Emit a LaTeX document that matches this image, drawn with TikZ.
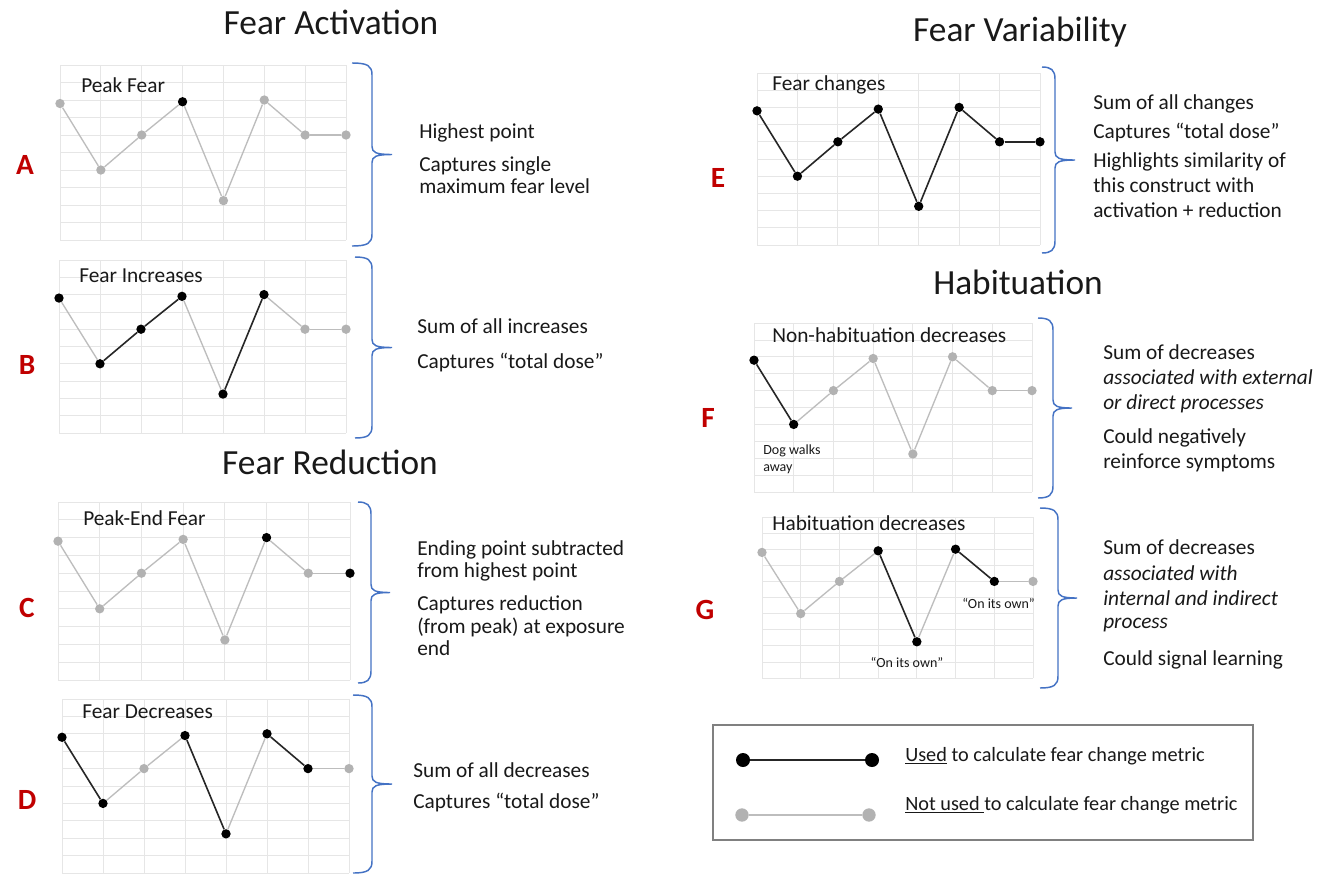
\documentclass[tikz,border=0pt]{standalone}
\usepackage{fontspec}
\setmainfont{Carlito}
\definecolor{dred}{HTML}{C00000}
\definecolor{bblue}{HTML}{4472C4}
\definecolor{ptgray}{HTML}{B2B2B2}
\definecolor{lngray}{HTML}{BDBDBD}
\definecolor{gridc}{HTML}{E6E6E6}
\definecolor{boxc}{HTML}{808080}
\tikzset{
  gridline/.style={draw=gridc, line width=0.6pt},
  ptb/.style={circle, fill=black, inner sep=0pt, minimum size=7pt},
  ptg/.style={circle, fill=ptgray, inner sep=0pt, minimum size=7pt},
  lnb/.style={draw=black!85, line width=1.2pt},
  lng/.style={draw=lngray, line width=1pt},
  bracest/.style={draw=bblue, line width=1.1pt},
  ttl/.style={font=\fontsize{26.5}{30}\selectfont, text=black!90},
  letter/.style={font=\fontsize{22}{25}\selectfont\bfseries, text=dred},
  desc/.style={anchor=base west, font=\fontsize{16}{19}\selectfont, text=black!90, inner sep=0pt},
  clab/.style={anchor=base west, font=\fontsize{16}{19}\selectfont, text=black!90, inner sep=0pt},
  small/.style={font=\fontsize{10.5}{12.5}\selectfont, text=black!90, inner sep=0pt},
  legb/.style={circle, fill=black, inner sep=0pt, minimum size=10.5pt},
  legg/.style={circle, fill=ptgray, inner sep=0pt, minimum size=10pt},
  legt/.style={anchor=base west, font=\fontsize{15.2}{18}\selectfont, text=black!90, inner sep=0pt}
}
\newcommand{\fchart}[7]{%
  \pgfmathsetmacro{\cw}{(#4-#2)/7}%
  \pgfmathsetmacro{\rh}{(#5-#3)/10}%
  \foreach \i in {0,...,7}{\draw[gridline] ({#2+\i*\cw},#3) -- ({#2+\i*\cw},#5);}
  \foreach \j in {0,...,10}{\draw[gridline] (#2,{#3+\j*\rh}) -- (#4,{#3+\j*\rh});}
  \foreach \s [count=\k from 0] in {#6}{%
    \pgfmathsetmacro{\v}{{2.2,6.0,4.0,2.1,7.75,2.0,4.0,4.0}[\k]}%
    \node[pt\s] (#1\k) at ({#2+\k*\cw},{#3+\v*\rh}) {};}
  \foreach \s [count=\k from 0] in {#7}{%
    \pgfmathtruncatemacro{\kn}{\k+1}%
    \draw[ln\s] (#1\k) -- (#1\kn);}
}
\newcommand{\fbrace}[5]{%
  \pgfmathsetmacro{\ym}{(#2+#3)/2}%
  \draw[bracest] (#1,#2) .. controls ({#4-4},#2) and (#4,{#2+3}) .. (#4,{#2+12})
    -- (#4,{\ym-8}) .. controls (#4,{\ym-2}) and ({#4+4},\ym) .. (#5,\ym)
    .. controls ({#4+4},\ym) and (#4,{\ym+2}) .. (#4,{\ym+8})
    -- (#4,{#3-12}) .. controls (#4,{#3-3}) and ({#4-4},#3) .. (#1,#3);
}
\begin{document}
\begin{tikzpicture}[x=0.75pt,y=-0.75pt]
\fill[white] (0,0) rectangle (1332,875);
\useasboundingbox (0,0) rectangle (1332,875);

% titles
\node[ttl] (t1) at (331,22) {Fear Activation};
\node[ttl] (t2) at (330,462) {Fear Reduction};
\node[ttl] (t3) at (1020,32) {Fear Variability};
\node[ttl] (t4) at (1018,282) {Habituation};

% letters
\node[letter] (LA) at (25,165) {A};
\node[letter] (LB) at (27,365) {B};
\node[letter] (LC) at (27,608) {C};
\node[letter] (LD) at (27,800) {D};
\node[letter] (LE) at (718,178) {E};
\node[letter] (LF) at (708,418) {F};
\node[letter] (LG) at (705,610) {G};

% charts
\fchart{A}{60}{65}{346}{240}{g,g,g,b,g,g,g,g}{g,g,g,g,g,g,g}
\fchart{B}{59}{260}{346}{433}{b,b,b,b,b,b,g,g}{g,b,b,g,b,g,g}
\fchart{C}{58}{502}{350}{680}{g,g,g,g,g,b,g,b}{g,g,g,g,g,g,g}
\fchart{D}{62}{699}{349}{873}{b,b,g,b,b,b,b,g}{b,g,g,b,g,b,g}
\fchart{E}{757}{73}{1040}{245}{b,b,b,b,b,b,b,b}{b,b,b,b,b,b,b}
\fchart{F}{754}{323}{1032}{492}{b,b,g,g,g,g,g,g}{b,g,g,g,g,g,g}
\fchart{G}{762}{517}{1033}{678}{g,g,g,b,b,b,b,g}{g,g,g,b,g,b,g}

% chart labels
\node[clab] (cA) at (81,92) {Peak Fear};
\node[clab] (cB) at (79,282) {Fear Increases};
\node[clab] (cC) at (83,525) {Peak-End Fear};
\node[clab] (cD) at (82,718) {Fear Decreases};
\node[clab] (cE) at (772,90) {Fear changes};
\node[clab] (cF) at (772,342) {Non-habituation decreases};
\node[clab] (cG) at (772,530) {Habituation decreases};

% small annotations
\node[small, anchor=base west] (s1) at (763,454) {Dog walks};
\node[small, anchor=base west] (s2) at (763,471) {away};
\node[small, anchor=base west] (s3) at (962,608) {“On its own”};
\node[small, anchor=base] (s4) at (907,667) {“On its own”};

% braces
\fbrace{352}{63}{246}{372}{392}
\fbrace{355}{257}{438}{372}{392}
\fbrace{358}{502}{683}{371}{390}
\fbrace{353}{695}{873}{372}{392}
\fbrace{1042}{67}{253}{1055}{1075}
\fbrace{1038}{318}{498}{1053}{1072}
\fbrace{1040}{508}{688}{1058}{1077}

% descriptions
\node[desc] (a1) at (419,138) {Highest point};
\node[desc] (a2) at (419,171) {Captures single};
\node[desc] (a3) at (419,193) {maximum fear level};
\node[desc] (b1) at (417,333) {Sum of all increases};
\node[desc] (b2) at (417,368) {Captures “total dose”};
\node[desc] (c1) at (417,555) {Ending point subtracted};
\node[desc] (c2) at (417,577) {from highest point};
\node[desc] (c3) at (417,610) {Captures reduction};
\node[desc] (c4) at (417,633) {(from peak) at exposure};
\node[desc] (c5) at (417,655) {end};
\node[desc] (d1) at (413,777) {Sum of all decreases};
\node[desc] (d2) at (413,808) {Captures “total dose”};
\node[desc] (e1) at (1093,109) {Sum of all changes};
\node[desc] (e2) at (1093,138) {Captures “total dose”};
\node[desc] (e3) at (1093,167) {Highlights similarity of};
\node[desc] (e4) at (1093,192) {this construct with};
\node[desc] (e5) at (1093,217) {activation + reduction};
\node[desc] (f1) at (1103,359) {Sum of decreases};
\node[desc] (f2) at (1103,384) {\itshape associated with external};
\node[desc] (f3) at (1103,409) {\itshape or direct processes};
\node[desc] (f4) at (1103,443) {Could negatively};
\node[desc] (f5) at (1103,468) {reinforce symptoms};
\node[desc] (g1) at (1103,554) {Sum of decreases};
\node[desc] (g2) at (1103,580) {\itshape associated with};
\node[desc] (g3) at (1103,605) {\itshape internal and indirect};
\node[desc] (g4) at (1103,628) {\itshape process};
\node[desc] (g5) at (1103,665) {Could signal learning};

% legend
\draw[draw=boxc, line width=0.8pt] (713,725) rectangle (1253,840);
\node[legb] (L1a) at (743,760) {};
\node[legb] (L1b) at (872,760) {};
\draw[lnb] (L1a) -- (L1b);
\node[legg] (L2a) at (742,815) {};
\node[legg] (L2b) at (869,815) {};
\draw[lng] (L2a) -- (L2b);
\node[legt] (lt1) at (905,761) {\underline{Used} to calculate fear change metric};
\node[legt] (lt2) at (905,810) {\underline{Not used\ }to calculate fear change metric};
\end{tikzpicture}
\end{document}
